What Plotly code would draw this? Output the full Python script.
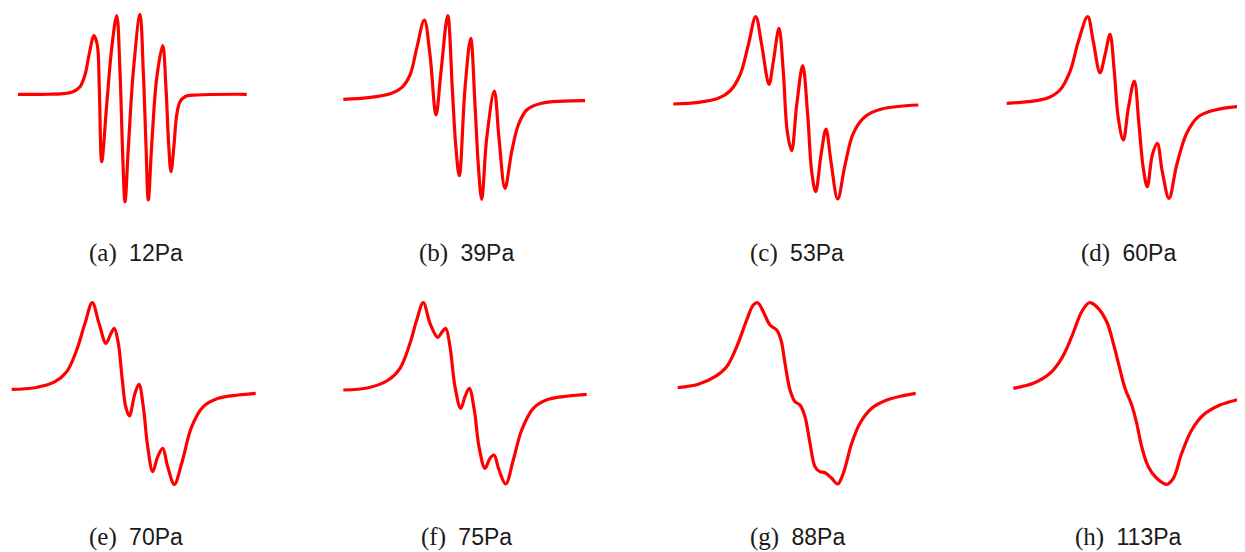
import plotly.graph_objects as go

# ---- data (field: arbitrary units, signal: arbitrary units) ----
a_field = [18, 43, 63, 73, 80, 85, 89, 94, 97.3, 99.3, 101.7, 106.7, 111.7, 116.7, 120, 122.7, 125, 128.3, 133.3, 140, 143.3, 146, 148.3, 151.7, 156.7, 162.7, 166, 168.7, 171, 174, 176.7, 180, 185, 196.7, 246.7]
a_signal = [15.7, 15.7, 16.3, 18.3, 23.3, 35, 55, 74.3, 65, 21.7, -51.7, 5, 61.7, 94.3, 38.3, -45, -91.7, -38.3, 38.3, 95.7, 38.3, -35, -90, -35, 31.7, 64.3, 21.7, -35, -61.7, -35, -5, 8.3, 13.3, 15, 15.7]

b_field = [13.3, 38.3, 61.7, 71.7, 80, 86.7, 94.3, 100, 106, 111, 117.7, 122.3, 125.7, 129.3, 135, 140.7, 145, 148.3, 151.7, 156.7, 164.3, 169, 175, 181.7, 188.3, 196.7, 211.7, 255]
b_signal = [10.7, 12.3, 16.7, 22.3, 35, 61.7, 90, 55, -5, 38.3, 94.3, 21.7, -35, -65.7, 21.7, 71.7, 5, -55, -89.3, -28.3, 19, -28.3, -78.3, -41.7, -15, 0, 6.7, 9.3]

c_field = [13.3, 38.3, 58.3, 70, 80, 88.3, 95.7, 101.7, 109, 113.3, 119, 123.3, 127.3, 131.7, 136.7, 142.7, 147.7, 151.7, 155.7, 161, 166, 171, 177.7, 185, 193.3, 205, 221.7, 258.3]
c_signal = [6, 7.7, 11.7, 19, 35, 65, 93.3, 65, 25.7, 48.3, 81.7, 38.3, -21.7, -40.7, 5, 44.3, -5, -61.7, -81.7, -45, -19, -51.7, -89, -55, -23.3, -6.7, 1, 5]

d_field = [11.7, 33.3, 53.3, 65, 75, 83.3, 92.7, 98.3, 105, 110, 115, 119.3, 123.3, 128.3, 133.3, 139.3, 144, 148.3, 152.3, 157.3, 162.3, 167.3, 174, 181.7, 191.7, 203.3, 220, 249.3]
d_signal = [6.7, 8.3, 12.3, 20, 38.3, 68.3, 93.3, 68.3, 37.3, 55, 75.7, 38.3, -8.3, -30, 1.7, 29, -15, -58.3, -76.7, -45, -33.3, -61.7, -88.3, -55, -23.3, -6.7, 0, 4]

e_field = [11.7, 35, 55, 66.7, 76.7, 85, 92.3, 99, 106, 111, 114.3, 118.3, 122.3, 125.7, 129.3, 135, 139, 143.3, 147.7, 152.7, 157.7, 162.7, 167.7, 174.3, 181.7, 191.7, 203.3, 218.3, 238.3, 255.7]
e_signal = [5.7, 7.3, 13.3, 23.3, 45, 71.7, 92.3, 71.7, 51.7, 61.7, 66.7, 51.7, 15, -11.7, -21, 1.7, 10.7, -11.7, -51.7, -76.7, -61.7, -53.3, -71.7, -89.3, -68.3, -31.7, -11.7, -3.3, 0, 1.7]

f_field = [13.3, 38.3, 58.3, 70, 80, 86.7, 93.3, 100, 107.7, 112.3, 115.7, 120, 125, 130.7, 135, 139.3, 144.3, 149, 155, 160, 164, 169, 175.7, 183.3, 191.7, 203.3, 218.3, 238.3, 256.7]
f_signal = [5, 7.3, 15, 26.7, 51.7, 75, 92.3, 71.7, 57.7, 63.3, 66.7, 48.3, 8.3, -13.3, -1.7, 6.7, -15, -51.7, -73.3, -63.3, -60, -75, -89, -65, -35, -13.3, -4.3, -1, 0.7]

g_field = [17.7, 38.3, 55, 66.7, 76.7, 86.7, 93.3, 97.7, 103.3, 110, 116.7, 121, 125, 130, 135, 140, 145, 150, 155, 160, 165, 171.7, 177.7, 183.3, 191.7, 200, 211.7, 225, 241.7, 255.7]
g_signal = [7.3, 10.7, 18.3, 28.3, 48.3, 75, 90, 92.3, 83.3, 70, 65, 55, 31.7, 5, -6.7, -10, -21.7, -48.3, -71.7, -76.7, -77.7, -83.3, -89, -78.3, -48.3, -28.3, -13.3, -5.7, -1, 1.7]

h_field = [18.3, 38.3, 55, 66.7, 76.7, 86.7, 94.3, 101.7, 111.7, 118.3, 124.3, 130, 136.7, 141.7, 146.7, 153.3, 161.7, 171.7, 178.3, 186.7, 196.7, 208.3, 225, 248.3]
h_signal = [6.7, 11.7, 21.7, 36.7, 58.3, 83.3, 92.3, 88.3, 73.3, 51.7, 28.3, 6.7, -10, -28.3, -51.7, -71.7, -83.3, -89.3, -83.3, -58.3, -35, -20, -10, -3.3]

labels = ["(a)", "(b)", "(c)", "(d)", "(e)", "(f)", "(g)", "(h)"]
pressures = ["12Pa", "39Pa", "53Pa", "60Pa", "70Pa", "75Pa", "88Pa", "113Pa"]

series = [(a_field, a_signal), (b_field, b_signal), (c_field, c_signal), (d_field, d_signal),
          (e_field, e_signal), (f_field, f_signal), (g_field, g_signal), (h_field, h_signal)]

# ---- layout (page pixels; the page body adds an 8px offset) ----
OFF = 8
PAGE_W, PAGE_H = 1245, 552
W, H = PAGE_W - OFF, PAGE_H - OFF
col_origin = [0, 330, 660, 995]                 # page x where field = 0
col_dom = [(10, 265), (335, 595), (665, 925), (1000, 1245)]
row_origin = [110, 395]                          # page y where signal = 0
row_dom = [(8, 230), (280, 552)]
cap_x = [136, 466, 797, 1128]
cap_y = [252, 536]


def px(v):
    return (v - OFF) / W


def py(v):
    return 1 - (v - OFF) / H


fig = go.Figure()
layout = dict(width=W, height=H, margin=dict(l=0, r=0, t=0, b=0),
              paper_bgcolor="white", plot_bgcolor="white", showlegend=False)
annotations = []
for i, (xs, ys) in enumerate(series):
    r, c = divmod(i, 4)
    n = i + 1
    xa = "x" if n == 1 else f"x{n}"
    ya = "y" if n == 1 else f"y{n}"
    fig.add_trace(go.Scatter(x=xs, y=ys, mode="lines", xaxis=xa, yaxis=ya,
                             line=dict(color="#ff0000", width=3.2, shape="spline", smoothing=1.0),
                             hoverinfo="skip"))
    dl, dr = col_dom[c]
    dt, db = row_dom[r]
    layout["xaxis" if n == 1 else f"xaxis{n}"] = dict(
        domain=[max(px(dl), 0), min(px(dr), 1)], range=[dl - col_origin[c], dr - col_origin[c]],
        visible=False, anchor=ya, fixedrange=True)
    layout["yaxis" if n == 1 else f"yaxis{n}"] = dict(
        domain=[max(py(db), 0), min(py(dt), 1)], range=[row_origin[r] - db, row_origin[r] - dt],
        visible=False, anchor=xa, fixedrange=True)
    annotations.append(dict(
        x=px(cap_x[c]), y=py(cap_y[r]), xref="paper", yref="paper",
        xanchor="center", yanchor="middle", showarrow=False,
        text=f'<span style="font-family:Liberation Serif;font-size:25px">{labels[i]}</span> '
             f'<span style="font-family:Liberation Sans;font-size:23px"> {pressures[i]}</span>',
        font=dict(size=23, color="#1a1a1a")))
layout["annotations"] = annotations
fig.update_layout(**layout)
fig.write_html("out.html")
